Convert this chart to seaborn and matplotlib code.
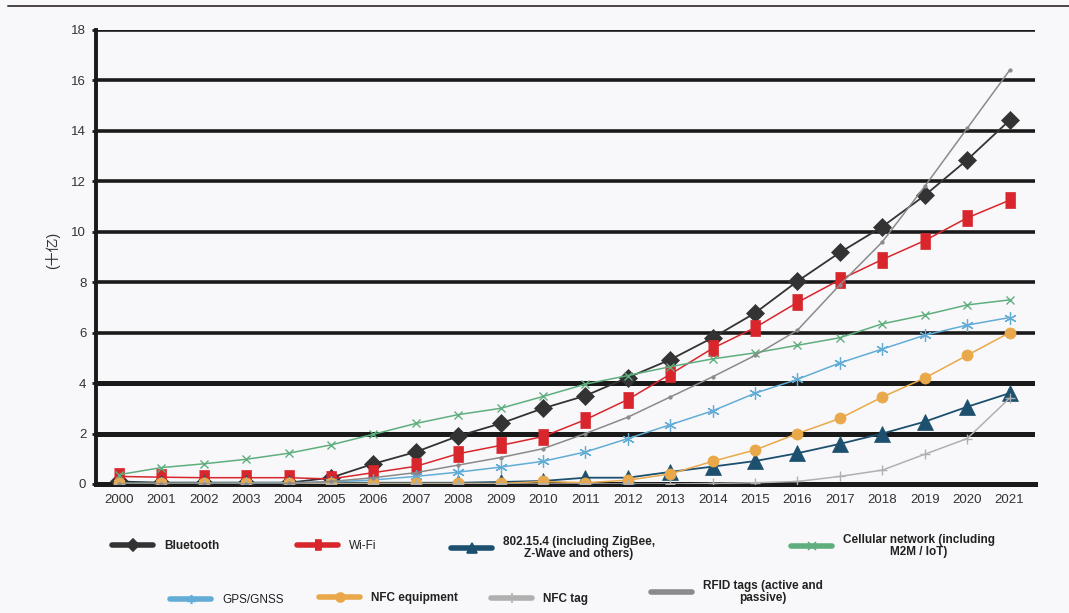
import matplotlib
matplotlib.use("Agg")
import matplotlib.pyplot as plt
from matplotlib.lines import Line2D
from matplotlib.ticker import FixedLocator
import seaborn as sns
import pandas as pd

years = list(range(2000, 2022))

bluetooth = [0.1, 0.05, 0.05, 0.05, 0.05, 0.25, 0.8, 1.27, 1.9, 2.4, 3.0, 3.5,
             4.22, 4.93, 5.8, 6.78, 8.04, 9.18, 10.2, 11.44, 12.85, 14.42]
wifi = [0.3, 0.27, 0.25, 0.25, 0.25, 0.2, 0.45, 0.7, 1.2, 1.53, 1.88, 2.55,
        3.35, 4.35, 5.38, 6.2, 7.2, 8.1, 8.9, 9.65, 10.55, 11.25]
zigbee = [0.05, 0.05, 0.05, 0.05, 0.05, 0.05, 0.05, 0.05, 0.05, 0.08, 0.12, 0.25,
          0.25, 0.48, 0.69, 0.91, 1.22, 1.59, 2.0, 2.47, 3.06, 3.6]
cellular = [0.37, 0.65, 0.8, 0.98, 1.22, 1.55, 1.97, 2.4, 2.75, 3.0, 3.47, 3.96,
            4.3, 4.65, 4.96, 5.2, 5.5, 5.8, 6.35, 6.7, 7.1, 7.3]
gps = [0.02, 0.02, 0.03, 0.04, 0.05, 0.08, 0.16, 0.3, 0.47, 0.67, 0.9, 1.27,
       1.8, 2.35, 2.9, 3.6, 4.15, 4.8, 5.35, 5.9, 6.3, 6.6]
nfc_equipment = [0.02, 0.02, 0.02, 0.02, 0.02, 0.02, 0.02, 0.02, 0.02, 0.02, 0.1, 0.05,
                 0.15, 0.4, 0.9, 1.35, 2.0, 2.6, 3.45, 4.2, 5.1, 6.0]
nfc_tag = [0.0, 0.0, 0.0, 0.0, 0.0, 0.0, 0.0, 0.0, 0.0, 0.0, 0.0, 0.0,
           0.0, 0.0, 0.02, 0.05, 0.1, 0.3, 0.55, 1.18, 1.8, 3.4]
rfid = [0.0, 0.0, 0.0, 0.0, 0.02, 0.1, 0.25, 0.45, 0.75, 1.05, 1.4, 2.0,
        2.65, 3.45, 4.25, 5.1, 6.1, 7.9, 9.6, 11.8, 14.1, 16.4]

y_ticks = [0, 2, 4, 6, 8, 10, 12, 14, 16, 18]
y_label = "(十亿)"

labels = ["Bluetooth", "Wi-Fi", "802.15.4 (including ZigBee,\nZ-Wave and others)",
          "Cellular network (including\nM2M / IoT)", "GPS/GNSS", "NFC equipment",
          "NFC tag", "RFID tags (active and\npassive)"]

rect = [(-0.32, -0.5), (0.32, -0.5), (0.32, 0.5), (-0.32, 0.5)]

styles = {
    "RFID tags (active and\npassive)": dict(color="#8a8a8a", marker="o", ms=2.5, mew=0.5, lw=1.1),
    "NFC tag": dict(color="#b0b0b0", marker="+", ms=7, mew=1.0, lw=1.1),
    "GPS/GNSS": dict(color="#62acd6", marker=(6, 2, 0), ms=9, mew=0.9, lw=1.1),
    "Cellular network (including\nM2M / IoT)": dict(color="#5fae7e", marker="x", ms=6, mew=1.0, lw=1.1),
    "NFC equipment": dict(color="#e9a84a", marker="o", ms=8, mew=0.5, lw=1.1),
    "802.15.4 (including ZigBee,\nZ-Wave and others)": dict(color="#1d4f6e", marker="^", ms=11, mew=0.5, lw=1.3),
    "Wi-Fi": dict(color="#d8262c", marker=rect, ms=12, mew=0.5, lw=1.1),
    "Bluetooth": dict(color="#333333", marker="D", ms=9, mew=0.5, lw=1.3),
}
series = {
    "Bluetooth": bluetooth, "Wi-Fi": wifi,
    "802.15.4 (including ZigBee,\nZ-Wave and others)": zigbee,
    "Cellular network (including\nM2M / IoT)": cellular,
    "GPS/GNSS": gps, "NFC equipment": nfc_equipment, "NFC tag": nfc_tag,
    "RFID tags (active and\npassive)": rfid,
}

sns.set_theme(style="white")
plt.rcParams["font.family"] = ["Liberation Sans", "Noto Sans CJK SC", "DejaVu Sans"]

bg = "#f8f8fa"
fig = plt.figure(figsize=(10.69, 6.13), dpi=100, facecolor=bg)
ax = fig.add_axes([96 / 1069, 1 - 484 / 613, (1035 - 96) / 1069, (484 - 30) / 613])
ax.set_facecolor(bg)

for name, vals in series.items():
    st = styles[name]
    df = pd.DataFrame({"year": years, "value": vals})
    sns.lineplot(data=df, x="year", y="value", ax=ax, color=st["color"],
                 marker=st["marker"], markersize=st["ms"], lw=st["lw"],
                 markeredgecolor=st["color"], markerfacecolor=st["color"],
                 markeredgewidth=st["mew"], legend=False, zorder=5)

ax.set_xlim(1999.46, 2021.6)
ax.set_ylim(0, 18)
ax.yaxis.set_major_locator(FixedLocator(y_ticks))
ax.xaxis.set_major_locator(FixedLocator(years))
ax.xaxis.set_minor_locator(FixedLocator([y + 0.5 for y in years[:-1]] + [1999.5]))
ax.set_xticklabels([str(y) for y in years])
ax.grid(axis="y", color="#1a1a1a", lw=2.6, zorder=1)
ax.grid(axis="x", visible=False)
ax.set_axisbelow(True)
for v in (2, 4):
    ax.axhline(v, color="#1a1a1a", lw=3.6, zorder=1)

for s in ("top", "right"):
    ax.spines[s].set_visible(False)
ax.spines["left"].set_color("#1a1a1a")
ax.spines["left"].set_linewidth(2.8)
ax.spines["bottom"].set_color("#1a1a1a")
ax.spines["bottom"].set_linewidth(3.6)

ax.tick_params(axis="x", which="major", length=0, pad=7, labelsize=9.5, labelcolor="#333333")
ax.tick_params(axis="x", which="minor", length=5, width=1.0, color="#333333", direction="out")
ax.tick_params(axis="y", which="major", length=3, width=2.0, color="#1a1a1a", pad=4,
               labelsize=9.5, labelcolor="#333333", left=True)
ax.set_xlabel("")
ax.set_ylabel(y_label, fontsize=10, color="#333333")
ax.yaxis.set_label_coords((60 - 96) / (1035 - 96), (484 - 250) / 454)

# decorative top rule
fig.add_artist(Line2D([8 / 1069, 1], [1 - 6 / 613, 1 - 6 / 613], color="#4a4444", lw=1.4))

legend_pos = {
    "Bluetooth": (112, 546),
    "Wi-Fi": (297, 546),
    "802.15.4 (including ZigBee,\nZ-Wave and others)": (451, 548),
    "Cellular network (including\nM2M / IoT)": (791, 546),
    "GPS/GNSS": (170, 600),
    "NFC equipment": (319, 598),
    "NFC tag": (491, 599),
    "RFID tags (active and\npassive)": (651, 592),
}
legend_font = {"Bluetooth": "bold", "Wi-Fi": "normal", "GPS/GNSS": "normal"}
for name in labels:
    st = styles[name]
    is_rfid = name.startswith("RFID")
    h = Line2D([], [], color=st["color"], lw=4.0, marker=None if is_rfid else st["marker"],
               markersize=min(st["ms"], 6.5), markeredgecolor=st["color"], markerfacecolor=st["color"],
               markeredgewidth=1.2)
    x, y = legend_pos[name]
    leg = fig.legend(handles=[h], labels=[name], loc="center left",
                     bbox_to_anchor=(x / 1069, 1 - y / 613), frameon=False,
                     borderpad=0, borderaxespad=0, handlelength=3.5, handletextpad=0.9,
                     numpoints=1,
                     prop=dict(family=["Liberation Sans"], size=8.5,
                               weight=legend_font.get(name, "bold")))
    for t in leg.get_texts():
        t.set_multialignment("center")
        t.set_color("#222222")
        t.set_linespacing(1.1)

fig.savefig("out.png", dpi=100, facecolor=bg)
